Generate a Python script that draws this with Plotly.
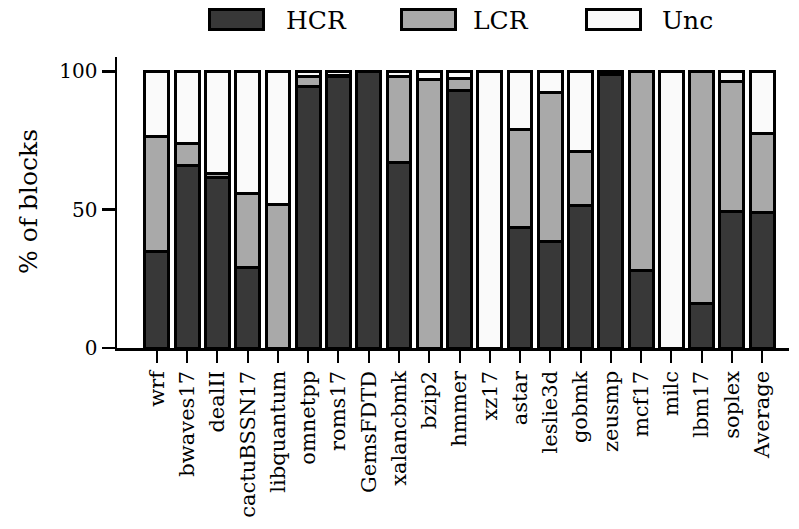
import plotly.graph_objects as go

categories = ["wrf", "bwaves17", "dealII", "cactuBSSN17", "libquantum", "omnetpp", "roms17",
              "GemsFDTD", "xalancbmk", "bzip2", "hmmer", "xz17", "astar", "leslie3d", "gobmk",
              "zeusmp", "mcf17", "milc", "lbm17", "soplex", "Average"]
hcr = [35, 66, 61.5, 29, 0, 94.5, 98, 99.8, 67, 0, 93, 0, 43.5, 38.5, 51.5, 99, 28, 0, 16, 49.5, 49]
lcr = [41.5, 8, 1.5, 27, 52, 3.5, 0.5, 0, 31, 97, 4.5, 0, 35.5, 54, 19.5, 0.3, 72, 0, 84, 47, 28.5]
unc = [23.5, 26, 37, 44, 48, 2, 1.5, 0.2, 2, 3, 2.5, 100, 21, 7.5, 29, 0.7, 0, 100, 0, 3.5, 22.5]
series_names = ["HCR", "LCR", "Unc"]
series_colors = ["#383838", "#a9a9a9", "#fafafa"]

FONT = "DejaVu Serif"
x_idx = list(range(len(categories)))

fig = go.Figure()
for name, vals, col in zip(series_names, [hcr, lcr, unc], series_colors):
    fig.add_trace(go.Bar(x=x_idx, y=vals, name=name, width=0.79,
                         marker=dict(color=col, line=dict(color="black", width=3)),
                         showlegend=False, hoverinfo="skip"))

# page body margin is removed (post_script below), so figure pixels = page pixels
W, H = 799, 529
L, R, T, B = 117, 789, 57, 348
def px(x):
    return (x - L) / (R - L)
def py(y):
    return (B - y) / (B - T)

leg = [(208, 265, 284), (400, 457, 471), (585, 642, 660)]
for (x0, x1, tx), name, col in zip(leg, series_names, series_colors):
    fig.add_shape(type="rect", xref="paper", yref="paper",
                  x0=px(x0 + 1.5), x1=px(x1 - 1.5), y0=py(29.5), y1=py(9.5),
                  fillcolor=col, line=dict(color="black", width=3))
    fig.add_annotation(xref="paper", yref="paper", x=px(tx), y=py(20),
                       text=name, showarrow=False, xanchor="left", yanchor="middle",
                       font=dict(family=FONT, size=25, color="black"))

fig.add_annotation(xref="paper", yref="paper", x=px(28), y=py(202), text="% of blocks",
                   showarrow=False, textangle=-90, xanchor="center", yanchor="middle",
                   font=dict(family=FONT, size=25, color="black"))

fig.update_layout(
    width=W, height=H,
    margin=dict(l=L, r=W - R, t=T, b=H - B),
    paper_bgcolor="white", plot_bgcolor="white",
    barmode="stack",
    font=dict(family=FONT, size=20, color="black"),
    xaxis=dict(range=[-1.32, 20.89], tickmode="array", tickvals=x_idx, ticktext=categories,
               tickangle=-90, ticks="outside", ticklen=12, tickwidth=2, tickcolor="black",
               showline=True, linecolor="black", linewidth=2.5, showgrid=False, zeroline=False,
               tickfont=dict(family=FONT, size=21), automargin=False),
    yaxis=dict(range=[0, 105.2], tickvals=[0, 50, 100], ticks="outside", ticklen=13, tickwidth=2.5,
               tickcolor="black", showline=True, linecolor="black", linewidth=2.5,
               showgrid=False, zeroline=False, tickfont=dict(family=FONT, size=20),
               automargin=False),
)

fig.write_html("out.html", config={"displayModeBar": False, "staticPlot": True},
               post_script="document.body.style.margin='0px'; document.body.style.overflow='hidden';")
